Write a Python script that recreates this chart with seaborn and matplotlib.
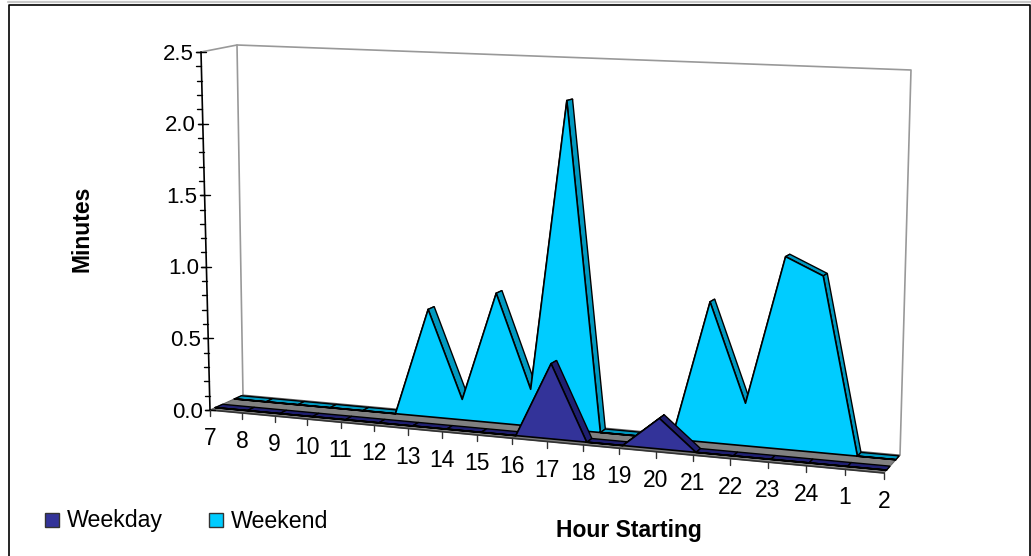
import numpy as np
import pandas as pd
import matplotlib
matplotlib.use("Agg")
import matplotlib.pyplot as plt
from matplotlib.patches import Rectangle
import seaborn as sns

# chart values
hours = [7, 8, 9, 10, 11, 12, 13, 14, 15, 16, 17, 18, 19, 20, 21, 22, 23, 24, 1, 2]
weekday = [0, 0, 0, 0, 0, 0, 0, 0, 0, 0, 0.5, 0, 0, 0.2, 0, 0, 0, 0, 0, 0]
weekend = [0, 0, 0, 0, 0, 0, 0.74, 0.14, 0.885, 0.25, 2.22, 0, 0, 0, 0.93, 0.28, 1.26, 1.15, 0, 0]
y_ticks = [0.0, 0.5, 1.0, 1.5, 2.0, 2.5]
y_minor = [0.1 * k for k in range(26)]

WEEKDAY_FACE, WEEKDAY_TOP = "#333399", "#1F1F70"
WEEKEND_FACE, WEEKEND_TOP = "#00CCFF", "#0099C0"
WEEKDAY_DEPTH = (0.16, 0.38)
WEEKEND_DEPTH = (0.74, 0.95)

# 3D box seen in perspective, in image pixels
FLOOR = {"fl": (210, 410), "bl": (243, 395), "br": (900, 455), "fr": (884, 473)}
RISE = {"fl": (-9, -358), "bl": (-6, -350), "br": (11, -385), "fr": (8, -398)}
PERSP = 1.11
N = len(hours) - 1


def mix(corners, t, d):
    c = {k: np.array(v, dtype=float) for k, v in corners.items()}
    return (1 - d) * ((1 - t) * c["fl"] + t * c["fr"]) + d * ((1 - t) * c["bl"] + t * c["br"])


def project(i, value, depth):
    s = i / N
    t = s / (PERSP * (1 - s) + s)
    return mix(FLOOR, t, depth) + mix(RISE, t, depth) * value / 2.5


def outline(ax, pts, color="black", lw=1.2, zorder=2):
    line = pd.DataFrame(pts, columns=["px", "py"])
    line["order"] = range(len(line))
    sns.lineplot(data=line, x="px", y="py", sort=False, estimator=None, color=color,
                 linewidth=lw, ax=ax, legend=False, zorder=zorder)


def draw_series(ax, values, depth, face, top, z):
    d0, d1 = depth
    # top surface, one quad per hour
    for i in range(N):
        quad = [project(i, values[i], d0), project(i + 1, values[i + 1], d0),
                project(i + 1, values[i + 1], d1), project(i, values[i], d1)]
        ax.fill(*zip(*quad), facecolor=top, edgecolor="black", linewidth=1.0, zorder=z)
    # front face
    front = [project(i, values[i], d0) for i in range(N + 1)]
    base = [project(N, 0, d0), project(0, 0, d0)]
    ax.fill(*zip(*(front + base)), facecolor=face, edgecolor="none", zorder=z + 1)
    outline(ax, front + base, zorder=z + 2)


sns.set_style("white")
plt.rcParams["font.family"] = ["Liberation Sans", "DejaVu Sans"]

fig = plt.figure(figsize=(10.31, 5.56), dpi=100)
ax = fig.add_axes([0, 0, 1, 1])
ax.set_xlim(0, 1031)
ax.set_ylim(556, 0)
ax.axis("off")

# chart frame, open at the bottom
outline(ax, [(8, 2), (1031, 2)], color="#C8C8C8", lw=1.6, zorder=1)
outline(ax, [(8.5, 556), (8.5, 4.5), (1030, 4.5), (1030, 556)], lw=1.2, zorder=1)

# walls
wall = "#999999"
outline(ax, [project(0, 2.5, 0), project(0, 2.5, 1), project(N, 2.5, 1), project(N, 0, 1)], color=wall, zorder=1)
outline(ax, [project(0, 2.5, 1), project(0, 0, 1)], color=wall, zorder=1)

# floor
floor_pts = [project(0, 0, 0), project(N, 0, 0), project(N, 0, 1), project(0, 0, 1)]
ax.fill(*zip(*floor_pts), facecolor="#808080", edgecolor="#666666", linewidth=0.8, zorder=2)

draw_series(ax, weekend, WEEKEND_DEPTH, WEEKEND_FACE, WEEKEND_TOP, 3)
draw_series(ax, weekday, WEEKDAY_DEPTH, WEEKDAY_FACE, WEEKDAY_TOP, 6)
outline(ax, [project(0, 0, 0), project(N, 0, 0)], color="#333333", zorder=9)

# value axis
outline(ax, [project(0, 0, 0), project(0, 2.5, 0)], zorder=9)
for v in y_minor:
    px, py = project(0, v, 0)
    ax.plot([px - 5, px], [py, py], color="black", lw=1.0, zorder=9)
for v in y_ticks:
    px, py = project(0, v, 0)
    ax.plot([px - 5, px + 5], [py, py], color="black", lw=1.0, zorder=9)
    ax.text(px - 7, py + 2, f"{v:.1f}", ha="right", va="center", fontsize=16, color="black")

# hour axis
for i, h in enumerate(hours):
    px, py = project(i, 0, 0)
    ax.plot([px, px], [py, py + 6], color="#333333", lw=1.0, zorder=9)
    ax.text(px, py + 28.5, str(h), ha="center", va="center", fontsize=16.5, color="black")

ax.text(82, 229, "Minutes", rotation=90, ha="center", va="center", fontsize=16.5,
        fontweight="bold", color="black")
ax.text(629, 531, "Hour Starting", ha="center", va="center", fontsize=16.5,
        fontweight="bold", color="black")

# legend
for x0, color, label in [(45, WEEKDAY_FACE, "Weekday"), (209, WEEKEND_FACE, "Weekend")]:
    ax.add_patch(Rectangle((x0, 513), 14, 14, facecolor=color, edgecolor="#333333", linewidth=1))
    ax.text(x0 + 22, 521, label, ha="left", va="center", fontsize=16.7, color="black")

fig.savefig("out.png", dpi=100)
